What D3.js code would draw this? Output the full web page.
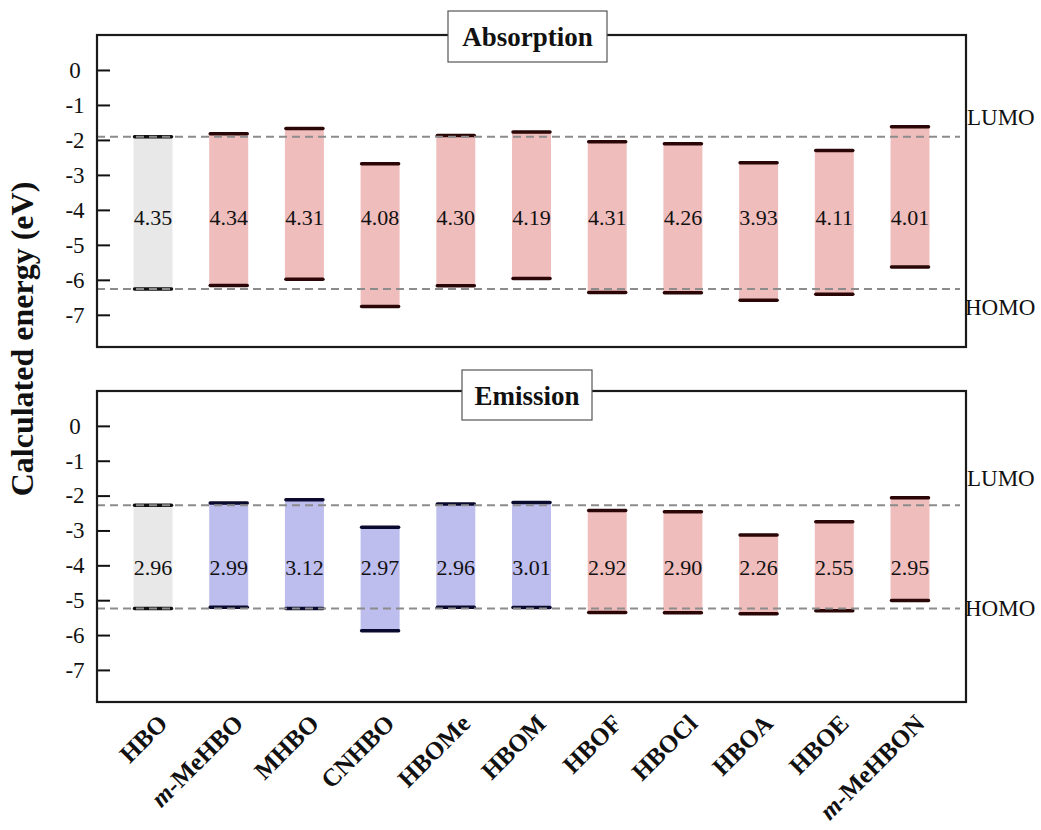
<!DOCTYPE html>
<html>
<head>
<meta charset="utf-8">
<script src="https://cdn.jsdelivr.net/npm/d3@7"></script>
<style>
  html, body { margin: 0; padding: 0; background: #fff; }
  svg { display: block; }
  svg text { font-family: "Liberation Serif", "Times New Roman", serif; }
</style>
</head>
<body>
<svg id="chart" width="1041" height="830"></svg>
<script>
// Molecules along the x axis
const categories = ["HBO", "m-MeHBO", "MHBO", "CNHBO", "HBOMe", "HBOM", "HBOF", "HBOCl", "HBOA", "HBOE", "m-MeHBON"];

// Absorption (ground-state geometry): LUMO energies and HOMO–LUMO gaps, eV
const absLumo = [-1.91, -1.82, -1.67, -2.68, -1.87, -1.77, -2.05, -2.11, -2.65, -2.30, -1.62];
const absGap  = [4.35, 4.34, 4.31, 4.08, 4.30, 4.19, 4.31, 4.26, 3.93, 4.11, 4.01];
const absKind = ["ref", "red", "red", "red", "red", "red", "red", "red", "red", "red", "red"];

// Emission (excited-state geometry): LUMO energies and HOMO–LUMO gaps, eV
const emiLumo = [-2.28, -2.21, -2.12, -2.91, -2.24, -2.20, -2.43, -2.46, -3.13, -2.75, -2.06];
const emiGap  = [2.96, 2.99, 3.12, 2.97, 2.96, 3.01, 2.92, 2.90, 2.26, 2.55, 2.95];
const emiKind = ["ref", "blue", "blue", "blue", "blue", "blue", "red", "red", "red", "red", "red"];

// Y axis ticks
const yTicks = [0, -1, -2, -3, -4, -5, -6, -7];

const SERIF = "Liberation Serif, Times New Roman, serif";
const fills = { ref: "#e8e8e8", red: "#f0bdbd", blue: "#bdbdee" };
const caps  = { ref: "#111111", red: "#2a0606", blue: "#0a0a2e" };

const svg = d3.select("#chart").attr("font-family", SERIF);
const left = 97, right = 966;

const x = d3.scalePoint().domain(categories).range([left, right]).padding(0.74);
const barW = 39;

const panels = [
  { title: "Absorption", top: 35, bottom: 347, lumo: absLumo, gap: absGap, kind: absKind,
    box: [448, 11, 159, 51], titleY: 46, labelV: -4.2, lumoDy: -12, homoDy: 26 },
  { title: "Emission", top: 391, bottom: 702, lumo: emiLumo, gap: emiGap, kind: emiKind,
    box: [462, 370, 130, 50], titleY: 405, labelV: -4.05, lumoDy: -19, homoDy: 7 }
];

panels.forEach(p => {
  const y = d3.scaleLinear().domain([1, -7.92]).range([p.top, p.bottom]);
  const rows = categories.map((c, i) => ({
    c, lumo: p.lumo[i], gap: p.gap[i], homo: +(p.lumo[i] - p.gap[i]).toFixed(2), kind: p.kind[i]
  }));
  const g = svg.append("g");

  // gap bars
  g.selectAll("rect.bar").data(rows).join("rect")
    .attr("class", "bar")
    .attr("x", d => x(d.c) - barW / 2)
    .attr("width", barW)
    .attr("y", d => y(d.lumo))
    .attr("height", d => y(d.homo) - y(d.lumo))
    .attr("fill", d => fills[d.kind]);

  // LUMO / HOMO levels
  const levels = rows.flatMap(d => [{ d, v: d.lumo }, { d, v: d.homo }]);
  g.selectAll("line.lvl").data(levels).join("line")
    .attr("class", "lvl")
    .attr("x1", e => x(e.d.c) - barW / 2 + 1)
    .attr("x2", e => x(e.d.c) + barW / 2 - 1)
    .attr("y1", e => y(e.v)).attr("y2", e => y(e.v))
    .attr("stroke", e => caps[e.d.kind])
    .attr("stroke-width", 3.5)
    .attr("stroke-linecap", "round");

  // reference lines at the parent HBO levels
  const ref = rows[0];
  [ref.lumo, ref.homo].forEach(v => {
    g.append("line")
      .attr("x1", left).attr("x2", right - 6)
      .attr("y1", y(v)).attr("y2", y(v))
      .attr("stroke", "#8c8c8c").attr("stroke-width", 2)
      .attr("stroke-dasharray", "8,5");
  });

  // gap values
  g.selectAll("text.gap").data(rows).join("text")
    .attr("class", "gap")
    .attr("x", d => x(d.c))
    .attr("y", y(p.labelV))
    .attr("dy", "0.36em")
    .attr("text-anchor", "middle")
    .attr("font-family", SERIF)
    .attr("font-size", 22)
    .attr("fill", "#111")
    .text(d => d.gap.toFixed(2));

  // left axis with inward ticks, labels centred in the margin
  const axis = d3.axisLeft(y).tickValues(yTicks).tickSize(-13).tickPadding(9)
    .tickFormat(d => String(d));
  const ax = g.append("g").attr("transform", `translate(${left},0)`).call(axis);
  ax.attr("font-family", SERIF);
  ax.select(".domain").remove();
  ax.selectAll(".tick line").attr("stroke", "#111").attr("stroke-width", 2);
  ax.selectAll(".tick text")
    .attr("x", -22)
    .attr("text-anchor", "middle")
    .attr("font-family", SERIF)
    .attr("font-size", 23).attr("fill", "#111");

  // frame
  g.append("rect")
    .attr("x", left).attr("y", p.top)
    .attr("width", right - left).attr("height", p.bottom - p.top)
    .attr("fill", "none").attr("stroke", "#1a1a1a").attr("stroke-width", 2.2);

  // LUMO / HOMO labels
  g.append("text").attr("x", 967).attr("y", y(ref.lumo) + p.lumoDy)
    .attr("font-size", 23).attr("fill", "#111").text("LUMO");
  g.append("text").attr("x", 965).attr("y", y(ref.homo) + p.homoDy)
    .attr("font-size", 23).attr("fill", "#111").text("HOMO");

  // panel title box
  const [bx, by, bw, bh] = p.box;
  g.append("rect").attr("x", bx).attr("y", by).attr("width", bw).attr("height", bh)
    .attr("fill", "#fff").attr("stroke", "#555").attr("stroke-width", 1.2);
  g.append("text").attr("x", bx + bw / 2).attr("y", p.titleY)
    .attr("text-anchor", "middle").attr("font-size", 27).attr("font-weight", "bold")
    .attr("fill", "#111").text(p.title);
});

// category labels under the lower panel
const xl = svg.append("g");
categories.forEach(c => {
  const t = xl.append("text")
    .attr("transform", `translate(${x(c) + 16},725) rotate(-45)`)
    .attr("text-anchor", "end")
    .attr("font-size", 25).attr("font-weight", "bold").attr("fill", "#111");
  if (c.startsWith("m-")) {
    t.append("tspan").attr("font-style", "italic").text("m");
    t.append("tspan").text(c.slice(1));
  } else {
    t.text(c);
  }
});

// y axis title
svg.append("text")
  .attr("transform", "translate(33,339) rotate(-90)")
  .attr("text-anchor", "middle")
  .attr("font-size", 32).attr("font-weight", "bold").attr("fill", "#111")
  .text("Calculated energy (eV)");
</script>
</body>
</html>
